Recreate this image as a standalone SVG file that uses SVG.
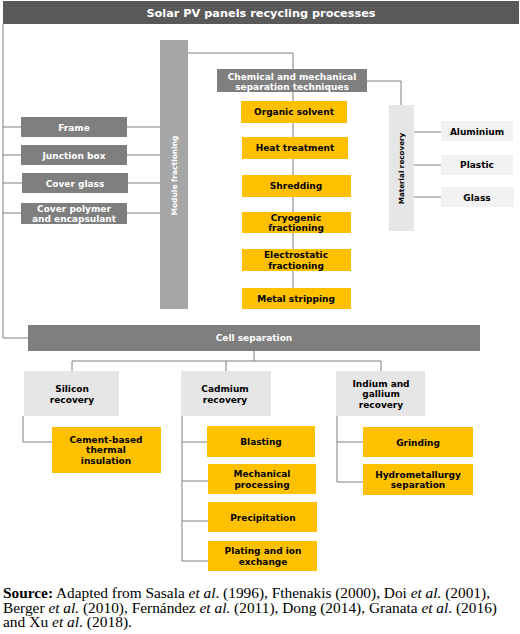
<svg xmlns="http://www.w3.org/2000/svg" width="520" height="634" viewBox="0 0 520 634">
<style>
.t{font-family:"DejaVu Sans",sans-serif;font-weight:bold;font-size:9px;text-anchor:middle}
.w{fill:#ffffff}
.k{fill:#000000}
.dk{fill:#7f7f7f}
.org{fill:#ffc000}
.lg{fill:#e7e6e6}
.xl{fill:#f2f2f2}
.c{fill:none;stroke:#7f7f7f;stroke-width:1}
.src{font-family:"Liberation Serif","Times New Roman",serif;font-size:15px;fill:#000}
</style>
<rect width="520" height="634" fill="#ffffff"/>
<g id="connectors">
<path class="c" d="M3,24 V338 H28"/>
<path class="c" d="M3,127 H160 M3,155 H160 M3,183 H160 M3,213 H160"/>
<path class="c" d="M188,53 H293 V69"/>
<path class="c" d="M293,92 V288"/>
<path class="c" d="M367,81 H401 V105"/>
<path class="c" d="M414,132 H441 M414,165 H441 M414,197 H441"/>
<path class="c" d="M254,351 V361 M72,371 V361 H381 V371 M226,361 V371"/>
<path class="c" d="M23,416 V442 H52"/>
<path class="c" d="M182,416 V561 M182,442 H207 M182,481 H208 M182,521 H208 M182,561 H208"/>
<path class="c" d="M337,416 V482 M337,442 H363 M337,482 H363"/>
</g>
<g id="title">
<rect x="3" y="1" width="516" height="23" fill="#595959"/>
<text class="t w" x="261" y="17" style="font-size:11.3px">Solar PV panels recycling processes</text>
</g>
<g id="module-fractioning">
<rect x="160" y="40" width="28" height="269" fill="#a6a6a6"/>
<text class="t w" transform="translate(177,175.5) rotate(-90)" style="font-size:7.5px">Module fractioning</text>
</g>
<g id="frame"><rect class="dk" x="21" y="117" width="106" height="20"/><text class="t w" x="74" y="130.5">Frame</text></g>
<g id="junction-box"><rect class="dk" x="21" y="145" width="106" height="20"/><text class="t w" x="74" y="158.5">Junction box</text></g>
<g id="cover-glass"><rect class="dk" x="22" y="173" width="106" height="20"/><text class="t w" x="75" y="186.5">Cover glass</text></g>
<g id="cover-polymer"><rect class="dk" x="21" y="203" width="106" height="21"/><text class="t w" x="74" y="212">Cover polymer</text><text class="t w" x="74" y="222">and encapsulant</text></g>
<g id="chem-mech"><rect class="dk" x="217" y="69" width="150" height="23"/><text class="t w" x="292" y="79.5">Chemical and mechanical</text><text class="t w" x="292" y="89.5">separation techniques</text></g>
<g id="organic-solvent"><rect class="org" x="241" y="101" width="106" height="22"/><text class="t k" x="294" y="115">Organic solvent</text></g>
<g id="heat-treatment"><rect class="org" x="242" y="137" width="106" height="22"/><text class="t k" x="295" y="151">Heat treatment</text></g>
<g id="shredding"><rect class="org" x="242" y="175" width="109" height="22"/><text class="t k" x="296" y="189">Shredding</text></g>
<g id="cryogenic"><rect class="org" x="242" y="212" width="109" height="21"/><text class="t k" x="296" y="221">Cryogenic</text><text class="t k" x="296" y="231">fractioning</text></g>
<g id="electrostatic"><rect class="org" x="242" y="249" width="109" height="22"/><text class="t k" x="296" y="258">Electrostatic</text><text class="t k" x="296" y="268.5">fractioning</text></g>
<g id="metal-stripping"><rect class="org" x="242" y="288" width="109" height="21"/><text class="t k" x="296" y="301.5">Metal stripping</text></g>
<g id="material-recovery">
<rect class="lg" x="389" y="105" width="25" height="126"/>
<text class="t k" transform="translate(404,168.5) rotate(-90)" style="font-size:7.2px">Material recovery</text>
</g>
<g id="aluminium"><rect class="xl" x="441" y="121" width="72" height="20"/><text class="t k" x="477" y="134.5">Aluminium</text></g>
<g id="plastic"><rect class="xl" x="441" y="155" width="72" height="20"/><text class="t k" x="477" y="168">Plastic</text></g>
<g id="glass"><rect class="xl" x="441" y="187" width="73" height="20"/><text class="t k" x="477" y="200.5">Glass</text></g>
<g id="cell-separation"><rect class="dk" x="28" y="325" width="452" height="26"/><text class="t w" x="254" y="341">Cell separation</text></g>
<g id="silicon-recovery"><rect class="lg" x="24" y="371" width="95" height="45"/><text class="t k" x="72" y="392">Silicon</text><text class="t k" x="72" y="402.5">recovery</text></g>
<g id="cadmium-recovery"><rect class="lg" x="181" y="371" width="90" height="45"/><text class="t k" x="225" y="392">Cadmium</text><text class="t k" x="225" y="402.5">recovery</text></g>
<g id="indium-gallium-recovery"><rect class="lg" x="336" y="371" width="89" height="45"/><text class="t k" x="381" y="386.5">Indium and</text><text class="t k" x="381" y="397">gallium</text><text class="t k" x="381" y="407.5">recovery</text></g>
<g id="cement"><rect class="org" x="52" y="427" width="109" height="46"/><text class="t k" x="106" y="442.5">Cement-based</text><text class="t k" x="106" y="453">thermal</text><text class="t k" x="106" y="463.5">insulation</text></g>
<g id="blasting"><rect class="org" x="207" y="426" width="108" height="31"/><text class="t k" x="261" y="445">Blasting</text></g>
<g id="mechanical-processing"><rect class="org" x="208" y="464" width="108" height="30"/><text class="t k" x="262" y="477">Mechanical</text><text class="t k" x="262" y="487.5">processing</text></g>
<g id="precipitation"><rect class="org" x="208" y="502" width="109" height="30"/><text class="t k" x="263" y="520.5">Precipitation</text></g>
<g id="plating"><rect class="org" x="208" y="541" width="109" height="30"/><text class="t k" x="263" y="554">Plating and ion</text><text class="t k" x="263" y="564.5">exchange</text></g>
<g id="grinding"><rect class="org" x="363" y="427" width="110" height="30"/><text class="t k" x="418" y="445.5">Grinding</text></g>
<g id="hydrometallurgy"><rect class="org" x="363" y="464" width="110" height="31"/><text class="t k" x="418" y="477.5">Hydrometallurgy</text><text class="t k" x="418" y="488">separation</text></g>
<g id="source">
<text class="src" x="3" y="598" textLength="487" lengthAdjust="spacingAndGlyphs"><tspan font-weight="bold">Source:</tspan> Adapted from Sasala <tspan font-style="italic">et al</tspan>. (1996), Fthenakis (2000), Doi <tspan font-style="italic">et al.</tspan> (2001),</text>
<text class="src" x="3" y="612.5" textLength="494" lengthAdjust="spacingAndGlyphs">Berger <tspan font-style="italic">et al.</tspan> (2010), Fernández <tspan font-style="italic">et al.</tspan> (2011), Dong (2014), Granata <tspan font-style="italic">et al</tspan>. (2016)</text>
<text class="src" x="3" y="627" textLength="129" lengthAdjust="spacingAndGlyphs">and Xu <tspan font-style="italic">et al</tspan>. (2018).</text>
</g>
</svg>
